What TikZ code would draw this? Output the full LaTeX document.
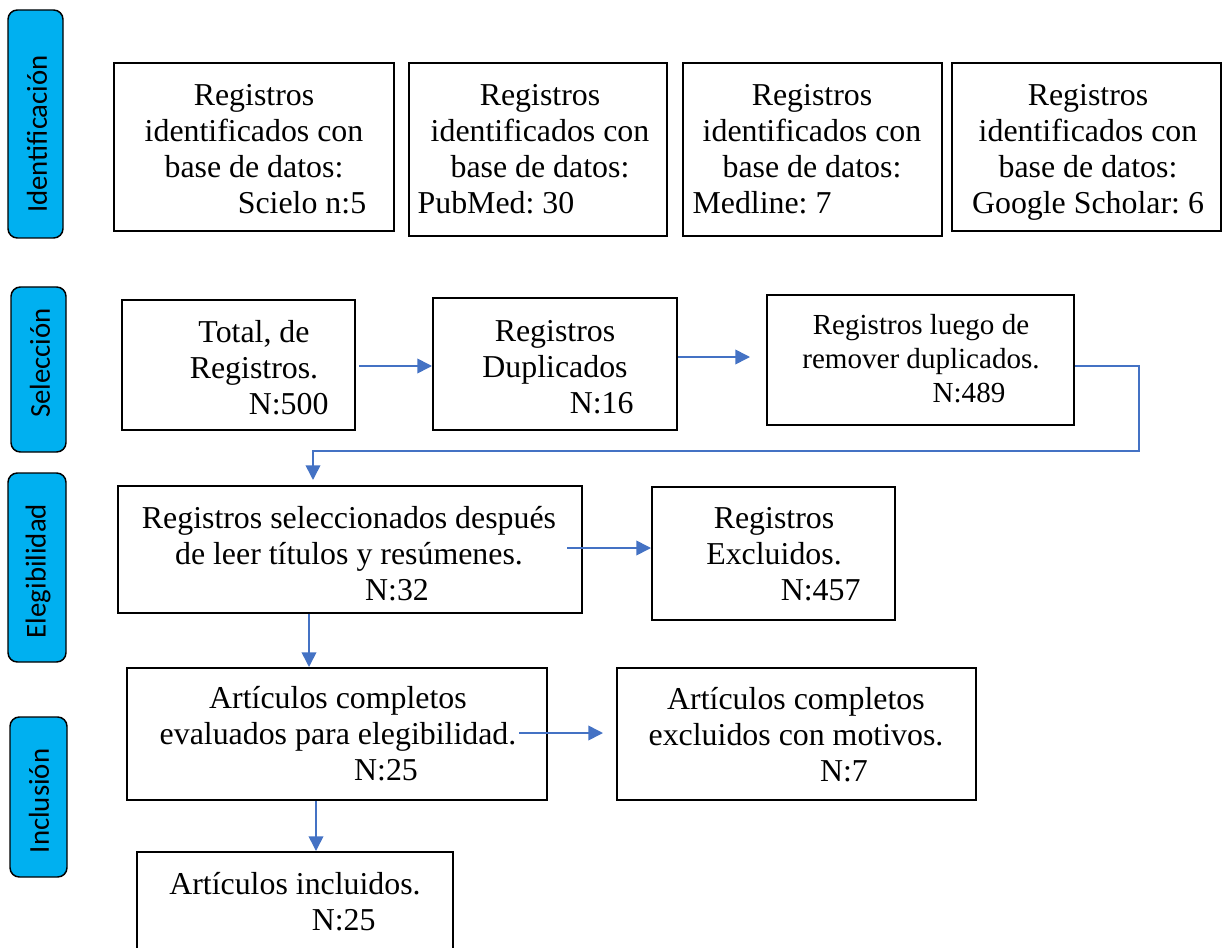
\documentclass[tikz,border=0pt]{standalone}
\usepackage{fontspec}
\setmainfont{Liberation Serif}
\newfontfamily\carlito{Carlito}
\usetikzlibrary{fit,arrows.meta}
\definecolor{sideblue}{HTML}{00B0F0}
\definecolor{arrblue}{HTML}{4472C4}
\newcommand\mainsz{\frenchspacing\fontsize{23.9}{27}\selectfont}
\newcommand\smallsz{\frenchspacing\fontsize{21.8}{25.5}\selectfont}
\newcommand\sidesz{\carlito\fontsize{21.6}{25}\selectfont}
\begin{document}
\begin{tikzpicture}[x=0.75pt,y=-0.75pt,
 box/.style={draw=black, line width=1.5pt, inner sep=0pt},
 side/.style={draw=black, fill=sideblue, line width=1.1pt, rounded corners=7pt, inner sep=0pt},
 sidetxt/.style={font=\sidesz, rotate=90, inner sep=0pt},
 txt/.style={font=\mainsz, align=center, inner sep=0pt, anchor=north},
 arr/.style={draw=arrblue, line width=1.2pt, -{Triangle[length=11pt,width=11pt]}}]
\useasboundingbox (0,0) rectangle (1223,948);

% side labels
\node[side, fit={(8,10) (63,238)}] (s1) {};
\node[sidetxt] (st1) at (37,134) {Identificación};
\node[side, fit={(11,287) (66,452)}] (s2) {};
\node[sidetxt] (st2) at (40,363) {Selección};
\node[side, fit={(8,473) (66,662)}] (s3) {};
\node[sidetxt] (st3) at (38,571) {Elegibilidad};
\node[side, fit={(10,717) (67,877)}] (s4) {};
\node[sidetxt] (st4) at (39,801) {Inclusión};

% row 1
\node[box, fit={(114,63) (394,231)}] (b1) {};
\node[txt] (t1) at (254,84) {Registros\\identificados con\\base de datos:\\\hspace*{72pt}Scielo n:5};
\node[box, fit={(409,63) (667,236)}] (b2) {};
\node[txt] (t2) at (540,84) {Registros\\identificados con\\base de datos:\\PubMed: 30\hspace*{66pt}};
\node[box, fit={(683,63) (942,236)}] (b3) {};
\node[txt] (t3) at (812,84) {Registros\\identificados con\\base de datos:\\Medline: 7\hspace*{75pt}};
\node[box, fit={(952,63) (1221,231)}] (b4) {};
\node[txt] (t4) at (1088,84) {Registros\\identificados con\\base de datos:\\Google Scholar: 6};

% row 2
\node[box, fit={(122,300) (355,430)}] (total) {};
\node[txt] (ttotal) at (254,320) {Total, de\\Registros.\\\hspace*{52pt}N:500};
\node[box, fit={(433,298) (677,430)}] (dup) {};
\node[txt] (tdup) at (555,320) {Registros\\Duplicados\\\hspace*{70pt}N:16};
\node[box, fit={(767,295) (1074,425)}] (luego) {};
\node[txt, font=\smallsz] (tluego) at (921,314) {Registros luego de\\remover duplicados.\\\hspace*{72pt}N:489};

% row 3
\node[box, fit={(118,486) (582,613)}] (selec) {};
\node[txt] (tselec) at (349,506) {Registros seleccionados después\\de leer títulos y resúmenes.\\\hspace*{72pt}N:32};
\node[box, fit={(652,487) (895,620)}] (excl) {};
\node[txt] (texcl) at (774,507) {Registros\\Excluidos.\\\hspace*{70pt}N:457};

% row 4
\node[box, fit={(127,668) (547,800)}] (eval) {};
\node[txt] (teval) at (338,686) {Artículos completos\\evaluados para elegibilidad.\\\hspace*{72pt}N:25};
\node[box, fit={(617,668) (976,800)}] (exclm) {};
\node[txt] (texclm) at (796,687) {Artículos completos\\excluidos con motivos.\\\hspace*{72pt}N:7};

% row 5
\node[box, fit={(137,852) (453,952)}] (incl) {};
\node[txt] (tincl) at (295,872) {Artículos incluidos.\\\hspace*{73pt}N:25};

% connectors
\coordinate (a1s) at (359,366);
\draw[arr] (a1s) -- (a1s -| dup.west);
\coordinate (a2s) at (677,357);
\coordinate (a2e) at (750,357);
\draw[arr] (a2s -| dup.east) -- (a2e);
\coordinate (c1) at (1139,366);
\coordinate (c2) at (313,451);
\coordinate (a3e) at (313,480);
\draw[arr] (c1 -| luego.east) -- (c1) -- (c1 |- c2) -- (c2) -- (a3e);
\coordinate (a4s) at (567,548);
\draw[arr] (a4s) -- (a4s -| excl.west);
\coordinate (a5) at (309,640);
\draw[arr] (selec.south -| a5) -- (eval.north -| a5);
\coordinate (a6s) at (519,733);
\coordinate (a6e) at (603,733);
\draw[arr] (a6s) -- (a6e);
\coordinate (a7) at (316,825);
\draw[arr] (eval.south -| a7) -- (incl.north -| a7);
\end{tikzpicture}
\end{document}
